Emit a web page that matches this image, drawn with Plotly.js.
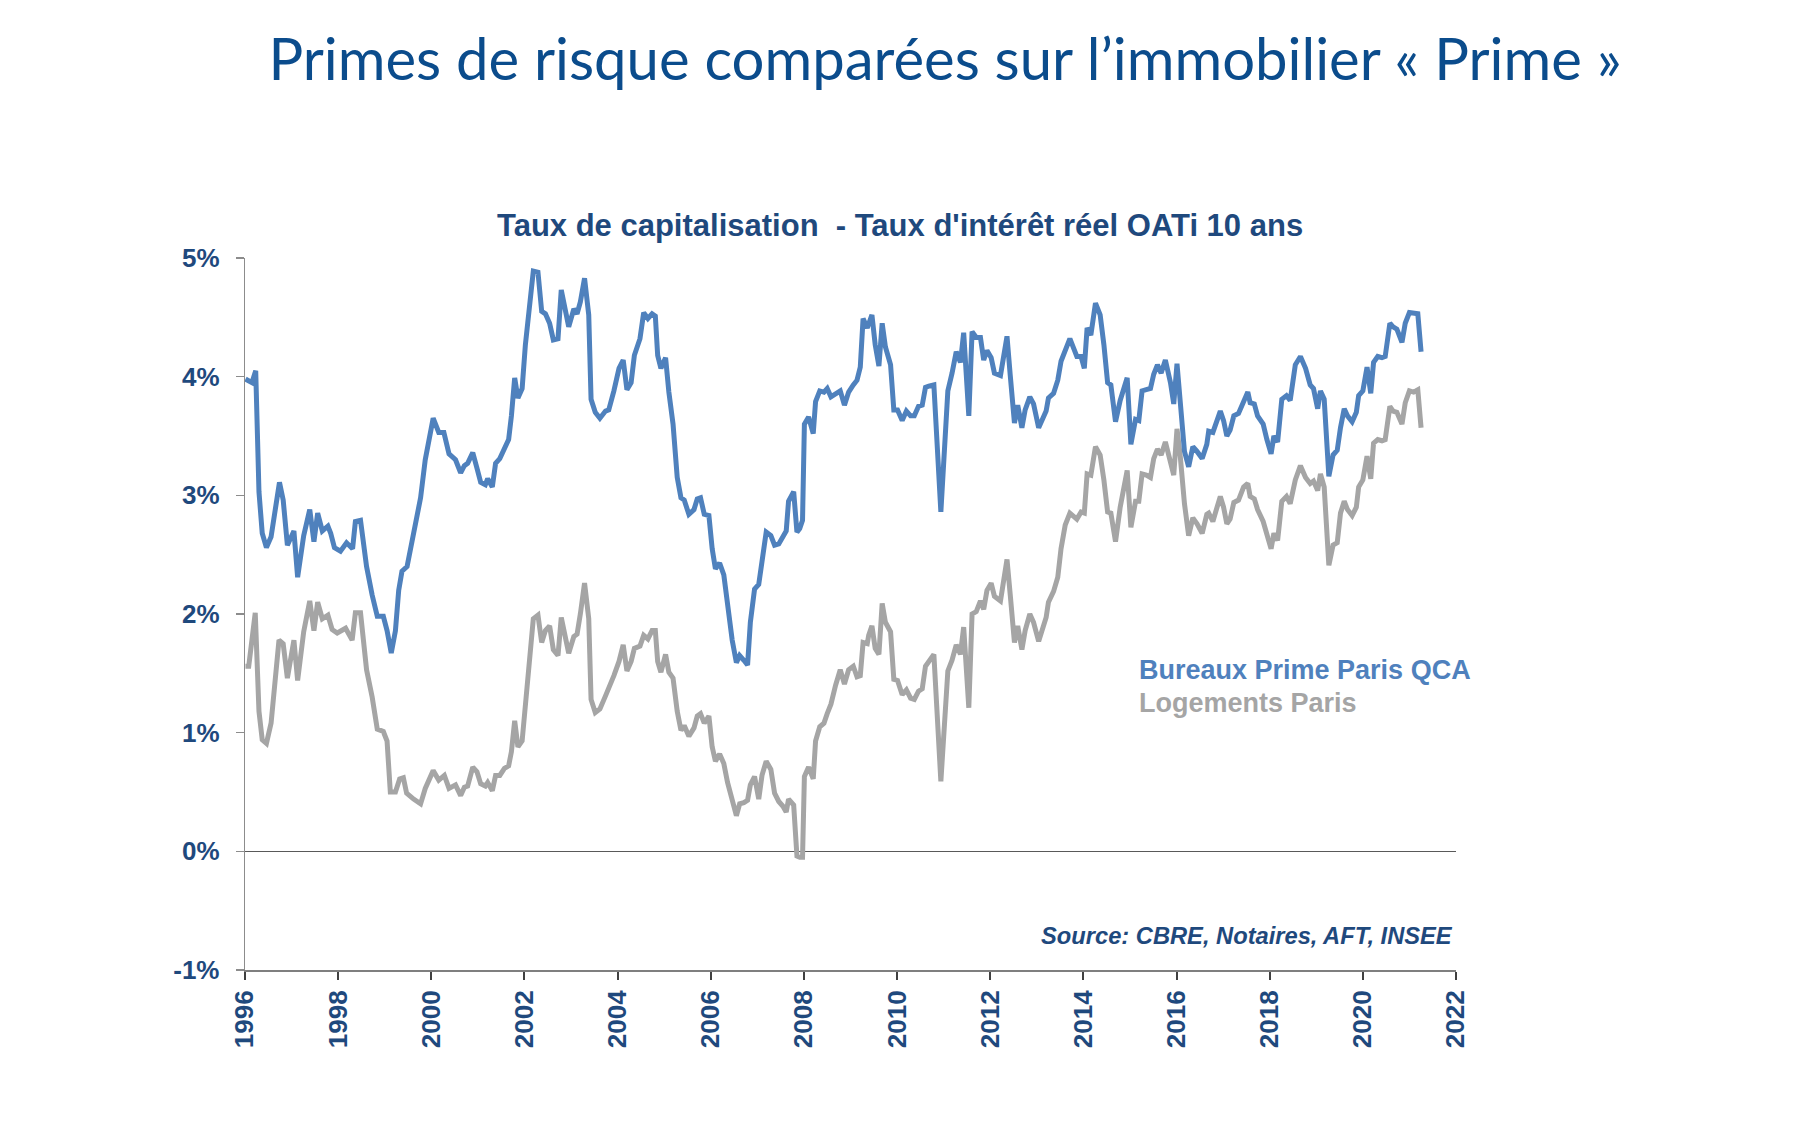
<!DOCTYPE html>
<html>
<head>
<meta charset="utf-8">
<script src="https://cdn.plot.ly/plotly-3.0.1.min.js"></script>
<style>
  html, body { margin: 0; padding: 0; background: #ffffff; }
  #chart { width: 1800px; height: 1122px; }
</style>
</head>
<body>
<div id="chart"></div>
<script>
// ---- Data ----
const blueName = "Bureaux Prime Paris QCA";
const grayName = "Logements Paris";

const blueX = [
  1996.01,1996.15,1996.23,1996.30,1996.37,1996.46,1996.56,1996.74,1996.82,1996.91,
  1997.05,1997.13,1997.26,1997.39,1997.48,1997.56,1997.66,1997.78,1997.84,1997.92,
  1998.05,1998.18,1998.31,1998.37,1998.48,1998.61,1998.73,1998.84,1998.97,1999.05,
  1999.14,1999.23,1999.30,1999.37,1999.48,1999.62,1999.77,1999.87,2000.04,2000.16,
  2000.27,2000.38,
  2000.52,2000.63,2000.71,2000.78,2000.89,2000.98,2001.06,2001.16,2001.21,2001.31,
  2001.38,2001.47,2001.57,2001.66,2001.72,2001.79,2001.86,2001.95,2002.02,2002.09,
  2002.19,2002.29,2002.37,2002.45,2002.54,2002.62,2002.72,2002.79,2002.86,2002.95,
  2003.06,2003.13,2003.20,2003.29,2003.38,2003.43,2003.52,2003.62,2003.74,2003.81,
  2003.92,2004.03,2004.12,2004.20,2004.29,2004.36,2004.48,
  2004.56,2004.65,2004.74,2004.81,2004.86,2004.93,2005.03,2005.10,2005.19,2005.28,
  2005.36,2005.43,2005.53,2005.64,2005.71,2005.78,2005.86,2005.96,2006.03,2006.10,
  2006.19,2006.28,2006.36,2006.46,2006.55,2006.62,2006.71,2006.79,2006.85,2006.94,
  2007.03,2007.10,2007.19,2007.29,2007.37,2007.46,2007.55,2007.62,2007.67,2007.78,
  2007.85,2007.91,2007.97,2008.01,2008.10,2008.20,2008.25,2008.34,2008.43,2008.50,
  2008.58,2008.68,2008.78,
  2008.87,2008.96,2009.06,2009.14,2009.21,2009.27,2009.36,2009.39,2009.46,2009.53,
  2009.61,2009.68,2009.75,2009.86,2009.93,2010.01,2010.11,2010.20,2010.29,2010.37,
  2010.46,2010.54,2010.61,2010.68,2010.79,2010.94,2011.09,2011.18,2011.27,2011.36,
  2011.43,2011.54,2011.61,2011.70,2011.79,2011.86,2011.93,2012.02,2012.09,2012.22,
  2012.36,2012.43,2012.52,2012.59,2012.68,2012.75,2012.85,2012.93,2013.04,
  2013.20,2013.25,2013.36,2013.45,2013.52,2013.61,2013.71,2013.79,2013.86,2013.95,
  2014.02,2014.08,2014.16,2014.26,2014.36,2014.44,2014.52,2014.59,2014.69,2014.79,
  2014.94,2015.02,2015.12,2015.19,2015.26,2015.35,2015.44,2015.51,2015.59,2015.67,
  2015.76,2015.87,2015.94,2016.01,2016.08,2016.17,2016.26,2016.35,2016.44,2016.55,
  2016.65,2016.69,2016.78,2016.87,2016.94,2017.01,2017.08,2017.15,2017.23,2017.33,
  2017.44,2017.53,2017.58,2017.67,2017.74,2017.86,2017.94,2018.03,2018.09,2018.17,
  2018.26,2018.36,2018.44,2018.55,2018.66,2018.77,2018.87,2018.94,2019.03,2019.09,
  2019.17,2019.27,2019.36,2019.45,2019.52,2019.60,2019.67,2019.77,2019.86,2019.91,
  2020.00,2020.09,2020.17,2020.23,2020.32,2020.41,2020.48,2020.58,2020.65,2020.73,
  2020.84,2020.91,2021.00,2021.09,2021.18,2021.25
];
const blueY = [
  3.98,3.95,4.05,3.03,2.68,2.56,2.65,3.11,2.96,2.58,
  2.70,2.31,2.66,2.88,2.61,2.85,2.70,2.74,2.68,2.56,
  2.53,2.60,2.55,2.78,2.79,2.40,2.16,1.98,1.98,1.86,
  1.67,1.86,2.20,2.36,2.40,2.68,2.98,3.30,3.65,3.53,
  3.53,3.35,
  3.30,3.19,3.25,3.27,3.36,3.23,3.11,3.09,3.14,3.07,
  3.27,3.31,3.40,3.47,3.67,3.99,3.82,3.90,4.27,4.53,
  4.89,4.88,4.55,4.53,4.45,4.31,4.32,4.73,4.58,4.42,
  4.57,4.53,4.63,4.83,4.52,3.81,3.70,3.65,3.71,3.72,
  3.88,4.07,4.14,3.89,3.95,4.18,4.32,
  4.54,4.49,4.53,4.51,4.18,4.07,4.16,3.87,3.60,3.15,
  2.98,2.96,2.84,2.88,2.97,2.98,2.84,2.83,2.55,2.38,
  2.43,2.33,2.05,1.78,1.59,1.65,1.61,1.57,1.93,2.21,
  2.25,2.48,2.69,2.66,2.58,2.59,2.65,2.70,2.95,3.03,
  2.69,2.72,2.79,3.60,3.66,3.52,3.79,3.88,3.87,3.90,
  3.83,3.86,3.88,
  3.76,3.87,3.93,3.97,4.08,4.49,4.41,4.45,4.52,4.27,
  4.09,4.45,4.25,4.10,3.72,3.72,3.63,3.71,3.67,3.67,
  3.75,3.76,3.91,3.92,3.93,2.86,3.88,4.03,4.21,4.12,
  4.37,3.67,4.38,4.33,4.33,4.14,4.22,4.16,4.03,4.01,
  4.34,4.01,3.61,3.76,3.57,3.72,3.83,3.77,3.57,
  3.71,3.82,3.86,3.97,4.13,4.22,4.32,4.24,4.17,4.17,
  4.07,4.41,4.35,4.62,4.52,4.27,3.95,3.93,3.62,3.80,
  3.99,3.43,3.64,3.63,3.88,3.89,3.90,4.02,4.10,4.03,
  4.14,3.95,3.77,4.11,3.73,3.37,3.24,3.41,3.37,3.31,
  3.43,3.54,3.53,3.63,3.71,3.63,3.50,3.55,3.67,3.69,
  3.80,3.87,3.78,3.77,3.67,3.60,3.47,3.35,3.50,3.45,
  3.81,3.84,3.80,4.10,4.17,4.07,3.93,3.90,3.73,3.88,
  3.81,3.16,3.34,3.38,3.57,3.73,3.67,3.62,3.70,3.84,
  3.88,4.08,3.86,4.12,4.17,4.16,4.17,4.45,4.42,4.40,
  4.29,4.45,4.54,4.53,4.53,4.21
];

const grayX = [
  1996.01,1996.08,1996.22,1996.30,1996.37,1996.46,1996.56,1996.73,1996.82,1996.91,
  1997.05,1997.13,1997.26,1997.39,1997.48,1997.56,1997.66,1997.78,1997.87,1997.98,
  1998.16,1998.30,1998.37,1998.48,1998.61,1998.73,1998.84,1998.97,1999.05,1999.12,
  1999.23,1999.32,1999.40,1999.47,1999.62,1999.77,1999.87,2000.04,2000.16,2000.28,
  2000.38,
  2000.52,2000.63,2000.71,2000.78,2000.89,2000.98,2001.06,2001.16,2001.21,2001.31,
  2001.38,2001.47,2001.57,2001.66,2001.72,2001.79,2001.86,2001.95,2002.02,2002.09,
  2002.19,2002.29,2002.37,2002.45,2002.54,2002.62,2002.72,2002.79,2002.86,2002.95,
  2003.06,2003.13,2003.20,2003.29,2003.38,2003.43,2003.52,2003.62,2003.74,2003.81,
  2003.92,2004.03,2004.12,2004.20,2004.29,2004.36,2004.48,
  2004.56,2004.65,2004.74,2004.81,2004.86,2004.93,2005.03,2005.10,2005.19,2005.28,
  2005.36,2005.43,2005.53,2005.64,2005.71,2005.78,2005.86,2005.96,2006.03,2006.10,
  2006.19,2006.28,2006.36,2006.46,2006.55,2006.62,2006.71,2006.79,2006.85,2006.94,
  2007.03,2007.10,2007.19,2007.29,2007.37,2007.46,2007.55,2007.62,2007.67,2007.78,
  2007.85,2007.91,2007.97,2008.01,2008.10,2008.20,2008.25,2008.34,2008.43,2008.50,
  2008.58,2008.68,2008.78,
  2008.87,2008.96,2009.06,2009.14,2009.21,2009.27,2009.36,2009.39,2009.46,2009.53,
  2009.61,2009.68,2009.75,2009.86,2009.93,2010.01,2010.11,2010.20,2010.29,2010.37,
  2010.46,2010.54,2010.61,2010.68,2010.79,2010.94,2011.09,2011.18,2011.27,2011.36,
  2011.43,2011.54,2011.61,2011.70,2011.79,2011.86,2011.93,2012.02,2012.09,2012.22,
  2012.36,2012.43,2012.52,2012.59,2012.68,2012.75,2012.85,2012.93,2013.04,
  2013.20,2013.25,2013.36,2013.45,2013.52,2013.61,2013.71,2013.79,2013.86,2013.95,
  2014.02,2014.08,2014.16,2014.26,2014.36,2014.44,2014.52,2014.59,2014.69,2014.79,
  2014.94,2015.02,2015.12,2015.19,2015.26,2015.35,2015.44,2015.51,2015.59,2015.67,
  2015.76,2015.87,2015.94,2016.01,2016.08,2016.17,2016.26,2016.35,2016.44,2016.55,
  2016.65,2016.69,2016.78,2016.87,2016.94,2017.01,2017.08,2017.15,2017.23,2017.33,
  2017.44,2017.53,2017.58,2017.67,2017.74,2017.86,2017.94,2018.03,2018.09,2018.17,
  2018.26,2018.36,2018.44,2018.55,2018.66,2018.77,2018.87,2018.94,2019.03,2019.09,
  2019.17,2019.27,2019.36,2019.45,2019.52,2019.60,2019.67,2019.77,2019.86,2019.91,
  2020.00,2020.09,2020.17,2020.23,2020.32,2020.41,2020.48,2020.58,2020.65,2020.73,
  2020.84,2020.91,2021.00,2021.09,2021.18,2021.25
];
const grayY = [
  1.56,1.56,2.01,1.18,0.94,0.91,1.08,1.78,1.75,1.46,
  1.78,1.44,1.85,2.11,1.86,2.10,1.96,1.99,1.87,1.84,
  1.88,1.78,2.01,2.01,1.53,1.30,1.03,1.01,0.93,0.50,
  0.50,0.61,0.62,0.49,0.44,0.40,0.53,0.68,0.60,0.64,
  0.53,
  0.56,0.47,0.54,0.55,0.71,0.67,0.57,0.55,0.58,0.51,
  0.64,0.64,0.70,0.72,0.84,1.10,0.88,0.93,1.23,1.56,
  1.96,1.99,1.76,1.86,1.90,1.70,1.65,1.97,1.83,1.67,
  1.81,1.83,2.00,2.26,1.96,1.28,1.17,1.20,1.31,1.37,
  1.48,1.60,1.74,1.52,1.60,1.71,1.73,
  1.82,1.79,1.86,1.86,1.60,1.51,1.66,1.51,1.46,1.18,
  1.02,1.06,0.97,1.04,1.14,1.16,1.08,1.14,0.88,0.76,
  0.82,0.74,0.58,0.42,0.30,0.40,0.41,0.43,0.56,0.63,
  0.44,0.64,0.76,0.69,0.49,0.42,0.38,0.33,0.44,0.39,
  -0.04,-0.05,-0.05,0.63,0.71,0.61,0.93,1.05,1.08,1.16,
  1.24,1.40,1.53,
  1.41,1.53,1.56,1.47,1.48,1.76,1.75,1.82,1.90,1.71,
  1.66,2.09,1.93,1.85,1.45,1.44,1.32,1.36,1.29,1.28,
  1.35,1.37,1.56,1.60,1.66,0.59,1.52,1.61,1.74,1.66,
  1.89,1.21,2.00,2.02,2.11,2.04,2.20,2.26,2.15,2.11,
  2.46,2.16,1.76,1.90,1.70,1.86,2.00,1.93,1.77,
  1.97,2.10,2.19,2.31,2.55,2.75,2.85,2.82,2.80,2.86,
  2.85,3.18,3.17,3.41,3.34,3.13,2.86,2.85,2.61,2.90,
  3.21,2.73,2.95,2.95,3.18,3.17,3.15,3.31,3.39,3.34,
  3.45,3.28,3.17,3.56,3.33,2.93,2.66,2.81,2.76,2.68,
  2.84,2.85,2.78,2.90,2.99,2.90,2.76,2.80,2.94,2.96,
  3.07,3.10,2.99,2.97,2.88,2.78,2.66,2.55,2.68,2.62,
  2.95,2.99,2.93,3.13,3.25,3.15,3.10,3.12,3.04,3.18,
  3.07,2.41,2.58,2.60,2.85,2.95,2.88,2.83,2.90,3.07,
  3.13,3.33,3.14,3.44,3.47,3.46,3.47,3.75,3.71,3.70,
  3.60,3.78,3.88,3.87,3.89,3.57
];

const xTickVals = [1996,1998,2000,2002,2004,2006,2008,2010,2012,2014,2016,2018,2020,2022];
const xTickText = ["1996","1998","2000","2002","2004","2006","2008","2010","2012","2014","2016","2018","2020","2022"];
const yTickVals = [-1,0,1,2,3,4,5];
const yTickText = ["-1%","0%","1%","2%","3%","4%","5%"];

const mainTitle = "Primes de risque comparées sur l’immobilier « Prime »";
const subTitle = "Taux de capitalisation  - Taux d'intérêt réel OATi 10 ans";
const sourceText = "Source: CBRE, Notaires, AFT, INSEE";

// ---- Styles ----
const BLUE = "#4F81BD";
const GRAY = "#A5A5A5";
const NAVY = "#1F497D";
const ARIAL = "Liberation Sans, Arial, sans-serif";

const traces = [
  { x: grayX, y: grayY, name: grayName, type: "scatter", mode: "lines",
    line: { color: GRAY, width: 5 }, hoverinfo: "skip" },
  { x: blueX, y: blueY, name: blueName, type: "scatter", mode: "lines",
    line: { color: BLUE, width: 5 }, hoverinfo: "skip" }
];

const layout = {
  width: 1800, height: 1122,
  paper_bgcolor: "#ffffff", plot_bgcolor: "#ffffff",
  margin: { l: 245, r: 344, t: 258, b: 152 },
  showlegend: false,
  title: {
    text: mainTitle,
    font: { family: "Lato, sans-serif", size: 58, color: "#0B4C8C" },
    xref: "container", yref: "container",
    x: 0.525, y: 1 - 60 / 1122, xanchor: "center", yanchor: "middle"
  },
  xaxis: {
    range: [1996, 2022],
    tickmode: "array", tickvals: xTickVals, ticktext: xTickText,
    tickangle: -90,
    tickfont: { family: ARIAL, size: 26, color: NAVY, weight: "bold" },
    showgrid: false, zeroline: false,
    showline: true, linecolor: "#7F7F7F", linewidth: 2,
    ticks: "outside", ticklen: 8, tickwidth: 2, tickcolor: "#404040",
    fixedrange: true
  },
  yaxis: {
    range: [-1, 5],
    tickmode: "array", tickvals: yTickVals, ticktext: yTickText,
    tickfont: { family: ARIAL, size: 26, color: NAVY, weight: "bold" },
    showgrid: false,
    zeroline: true, zerolinecolor: "#595959", zerolinewidth: 1.5,
    showline: true, linecolor: "#8C8C8C", linewidth: 1.3,
    ticks: "outside", ticklen: 8, tickwidth: 1.3, tickcolor: "#8C8C8C",
    ticklabelstandoff: 11,
    fixedrange: true
  },
  annotations: [
    { text: subTitle, xref: "paper", yref: "paper",
      x: (900 - 245) / 1211, y: (970 - 226) / 712, xanchor: "center", yanchor: "middle",
      showarrow: false, font: { family: ARIAL, size: 31, color: NAVY, weight: "bold" } },
    { text: blueName, xref: "paper", yref: "paper",
      x: (1137 - 245) / 1211, y: (970 - 670) / 712, xanchor: "left", yanchor: "middle",
      showarrow: false, font: { family: ARIAL, size: 27, color: BLUE, weight: "bold" } },
    { text: grayName, xref: "paper", yref: "paper",
      x: (1137 - 245) / 1211, y: (970 - 703) / 712, xanchor: "left", yanchor: "middle",
      showarrow: false, font: { family: ARIAL, size: 27, color: GRAY, weight: "bold" } },
    { text: sourceText, xref: "paper", yref: "paper",
      x: (1455 - 245) / 1211, y: (970 - 936) / 712, xanchor: "right", yanchor: "middle",
      showarrow: false, font: { family: ARIAL, size: 23.7, color: NAVY, weight: "bold", style: "italic" } }
  ]
};

Plotly.newPlot("chart", traces, layout, { displayModeBar: false, staticPlot: true });
</script>
</body>
</html>
